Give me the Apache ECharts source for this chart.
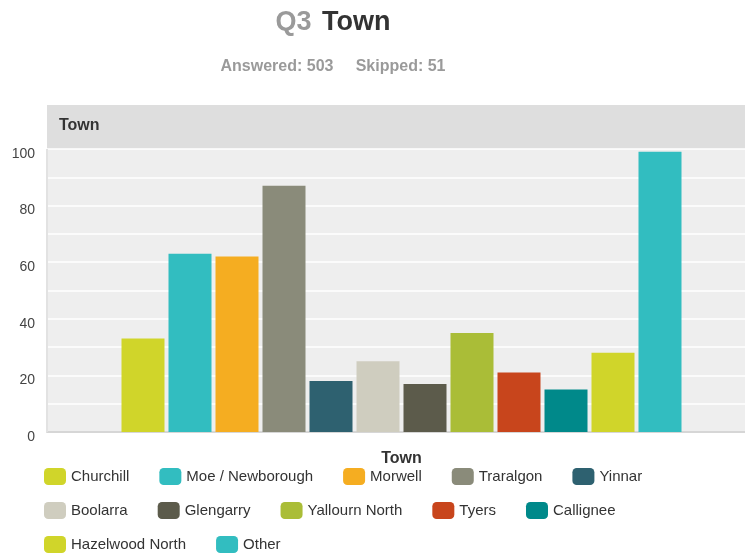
<!DOCTYPE html>
<html>
<head>
<meta charset="utf-8">
<script src="https://cdn.jsdelivr.net/npm/echarts@6/dist/echarts.min.js"></script>
<style>
  html, body { margin: 0; padding: 0; background: #ffffff; }
  #chart { width: 745px; height: 553px; }
</style>
</head>
<body>
<div id="chart"></div>
<script>
// Survey question 3: number of respondents per town
const towns = ['Churchill', 'Moe / Newborough', 'Morwell', 'Traralgon', 'Yinnar',
  'Boolarra', 'Glengarry', 'Yallourn North', 'Tyers', 'Callignee',
  'Hazelwood North', 'Other'];
const counts = [33, 63, 62, 87, 18, 25, 17, 35, 21, 15, 28, 99];
const townColors = ['#D0D52A', '#32BDC0', '#F5AD21', '#8A8B7A', '#2E6170',
  '#CFCDBF', '#5C5B4B', '#AABD37', '#C8451C', '#00898A',
  '#D0D52A', '#32BDC0'];
const yTicks = [0, 20, 40, 60, 80, 100];
const answered = 503;
const skipped = 51;

// Legend rows as laid out under the plot
const legendRows = [
  towns.slice(0, 5),
  towns.slice(5, 10),
  towns.slice(10)
];

const chart = echarts.init(document.getElementById('chart'), null, { renderer: 'canvas' });

const FONT = 'Liberation Sans, Arial, sans-serif';

const series = towns.map((name, i) => ({
  name: name,
  type: 'bar',
  data: [counts[i]],
  barWidth: 43,
  barGap: '9.3%',
  itemStyle: { color: townColors[i] },
  emphasis: { disabled: true }
}));

const legends = legendRows.map((row, r) => ({
  data: row,
  left: 44,
  top: 468 + r * 34,
  orient: 'horizontal',
  padding: 0,
  itemWidth: 22,
  itemHeight: 17,
  itemGap: 30,
  icon: 'roundRect',
  selectedMode: false,
  textStyle: { fontFamily: FONT, fontSize: 15, color: '#333333' }
}));

const option = {
  animation: false,
  backgroundColor: '#ffffff',
  textStyle: { fontFamily: FONT },
  grid: {
    left: 47,
    right: -11,
    top: 149,
    bottom: 121,
    outerBoundsMode: 'none',
    containLabel: false,
    show: true,
    backgroundColor: '#EEEEEE',
    borderWidth: 0
  },
  legend: legends,
  xAxis: {
    type: 'category',
    data: ['Town'],
    name: 'Town',
    nameLocation: 'middle',
    nameGap: 19,
    nameTextStyle: { fontFamily: FONT, fontSize: 16, fontWeight: 'bold', color: '#333333' },
    axisLine: { show: true, lineStyle: { color: '#D6D6D6', width: 2 } },
    axisTick: { show: false },
    axisLabel: { show: false },
    splitLine: { show: false }
  },
  yAxis: {
    type: 'value',
    min: yTicks[0],
    max: yTicks[yTicks.length - 1],
    interval: yTicks[1] - yTicks[0],
    axisLine: { show: false },
    axisTick: { show: false },
    axisLabel: {
      fontFamily: FONT,
      fontSize: 14,
      color: '#444444',
      margin: 12,
      verticalAlign: 'top',
      lineHeight: 10
    },
    splitLine: { show: true, lineStyle: { color: '#FFFFFF', width: 1.5 } },
    minorTick: { show: false, splitNumber: 2 },
    minorSplitLine: { show: true, lineStyle: { color: '#FFFFFF', width: 1.5 } }
  },
  graphic: [
    {
      type: 'rect',
      shape: { x: 47, y: 105, width: 698, height: 44 },
      style: { fill: '#DEDEDE' },
      silent: true
    },
    {
      type: 'rect',
      shape: { x: 46, y: 149, width: 2, height: 283 },
      style: { fill: '#E2E2E2' },
      silent: true,
      z: 5
    },
    {
      type: 'text',
      style: {
        x: 59, y: 126,
        text: 'Town',
        font: 'bold 16px Liberation Sans, Arial, sans-serif',
        fill: '#333333',
        verticalAlign: 'middle'
      },
      silent: true
    },
    {
      type: 'text',
      style: {
        x: 333, y: 23,
        text: '{q|Q3} {t|Town}',
        align: 'center',
        verticalAlign: 'middle',
        font: 'bold 27px Liberation Sans, Arial, sans-serif',
        rich: {
          q: { font: 'bold 27px Liberation Sans, Arial, sans-serif', fill: '#9A9A9A' },
          t: { font: 'bold 27px Liberation Sans, Arial, sans-serif', fill: '#333333', padding: [0, 0, 0, 3] }
        }
      },
      silent: true
    },
    {
      type: 'text',
      style: {
        x: 333, y: 67,
        text: 'Answered: ' + answered + '     Skipped: ' + skipped,
        align: 'center',
        verticalAlign: 'middle',
        font: 'bold 16px Liberation Sans, Arial, sans-serif',
        fill: '#9A9A9A'
      },
      silent: true
    }
  ],
  series: series
};

chart.setOption(option);
</script>
</body>
</html>
